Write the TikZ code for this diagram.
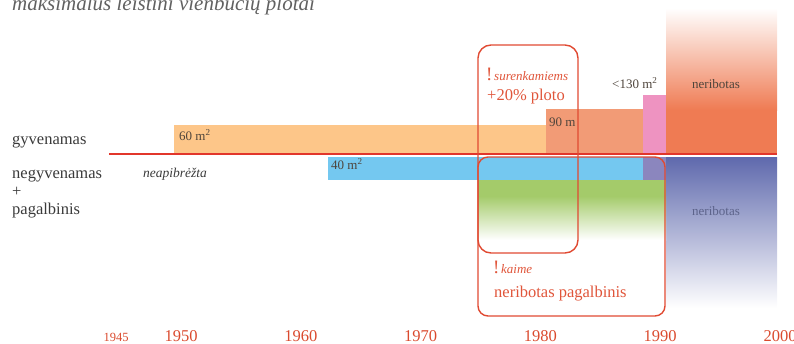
\documentclass[tikz,border=0pt]{standalone}
\usepackage{fontspec}
\setmainfont{Liberation Serif}
\usetikzlibrary{positioning}

\definecolor{lineRed}{HTML}{E2362B}
\definecolor{frameRed}{HTML}{E04A32}
\definecolor{textRed}{HTML}{E0553A}
\definecolor{yearRed}{HTML}{DA4A2E}
\definecolor{barOrange}{HTML}{FDC689}
\definecolor{barSalmon}{HTML}{F29B76}
\definecolor{barPink}{HTML}{EE93C1}
\definecolor{barRed}{HTML}{EF7B53}
\definecolor{barBlue}{HTML}{74C8F0}
\definecolor{barPurple}{HTML}{8B86BE}
\definecolor{barNavy}{HTML}{5F69AD}
\definecolor{barGreen}{HTML}{A4CB6A}
\definecolor{labelGray}{HTML}{3A3A3A}

\begin{document}
\begin{tikzpicture}[x=1pt, y=-1pt]

\useasboundingbox (0,0) rectangle (794,343);
\clip (0,0) rectangle (794,343);

%% setup styles
\tikzstyle{row label}=[anchor=base west, inner sep=0pt, text=labelGray, font=\fontsize{16.5}{18}\selectfont]
\tikzstyle{bar label}=[anchor=base west, inner sep=0pt, text=labelGray!85!brown, font=\fontsize{13}{14}\selectfont]
\tikzstyle{note}=[anchor=base west, inner sep=0pt, text=textRed]
\tikzstyle{frame}=[draw=frameRed, line width=1.4pt, rounded corners=13pt]
\tikzstyle{year}=[anchor=base, inner sep=0pt, text=yearRed, font=\fontsize{16.5}{18}\selectfont]

%% define coordinate grid
\def \xstart {109}
\def \xsixty {174}
\def \xforty {328}
\def \xframe {478}
\def \xninety {546}
\def \xframeend {578}
\def \xpink {643}
\def \xfree {666}
\def \xend {777}
\def \ymain {154}
\def \ylow {157}
\def \yblue {180}
\def \ybase {341}

% title (cut at the top)
\node[anchor=base west, inner sep=0pt, text=labelGray!80, font=\fontsize{21}{23}\selectfont\itshape] (title) at (12,10) {maksimalus leistini vienbučių plotai};

% gyvenamas bars
\fill[barOrange] (\xsixty,125) rectangle (\xninety,\ymain);
\fill[barSalmon] (\xninety,109) rectangle (\xpink,\ymain);
\fill[barPink] (\xpink,95) rectangle (\xfree,\ymain);
\shade[top color=white, bottom color=barRed] (\xfree,8) rectangle (\xend,110);
\fill[barRed] (\xfree,110) rectangle (\xend,\ymain);

% negyvenamas bars
\fill[barBlue] (\xforty,\ylow) rectangle (\xpink,\yblue);
\fill[barPurple] (\xpink,\ylow) rectangle (\xfree,\yblue);
\shade[top color=barNavy, middle color=barNavy!72!white, bottom color=white] (\xfree,\ylow) rectangle (\xend,308);
\fill[barGreen] (\xframe,\yblue) rectangle (\xfree,196);
\shade[top color=barGreen, bottom color=white] (\xframe,196) rectangle (\xfree,240);

% main line
\coordinate (line start) at (\xstart,\ymain);
\coordinate (line end) at (\xend,\ymain);
\draw[lineRed, line width=2.6pt] (line start) -- (line end);

% frames
\draw[frame] (\xframe,45) rectangle (\xframeend,253);
\draw[frame, rounded corners=10pt] (\xframe,\ylow) rectangle (\xfree-1,316);

% row labels
\node[row label] (gyv) at (12,144) {gyvenamas};
\node[row label] (negyv) at (12,178) {negyvenamas};
\node[row label] (plus) at (12,196) {+};
\node[row label] (pagalb) at (12,214) {pagalbinis};
\node[anchor=base west, inner sep=0pt, text=labelGray, font=\fontsize{13.5}{15}\selectfont\itshape] (neapibr) at (143,177) {neapibrėžta};

% bar labels
\node[bar label] (l60) at (179,140) {60 m\textsuperscript{2}};
\node[bar label] (l40) at (331,169) {40 m\textsuperscript{2}};
\node[bar label] (l90) at (549,126) {90 m};
\node[bar label] (l130) at (612,88) {<130 m\textsuperscript{2}};
\node[bar label, anchor=base] (nerib1) at (716,88) {neribotas};
\node[bar label, anchor=base, text=barNavy!55!black, opacity=0.6] (nerib2) at (716,215) {neribotas};

% notes
\node[note] (surenk) at (486,80) {{\fontsize{19}{20}\selectfont !}\,{\fontsize{13}{14}\selectfont\itshape surenkamiems}};
\node[note, font=\fontsize{16.5}{18}\selectfont] (ploto) at (487,100) {+20\% ploto};
\node[note] (kaime) at (493,273) {{\fontsize{19}{20}\selectfont !}\,{\fontsize{13}{14}\selectfont\itshape kaime}};
\node[note, font=\fontsize{16.5}{18}\selectfont] (pagalbnote) at (494,297) {neribotas pagalbinis};

% year axis
\node[year, font=\fontsize{12.5}{14}\selectfont] (y-1945) at (116,\ybase) {1945};
\foreach \yr in {1950,1960,...,2000}{
\node[year] (y-\yr) at ({181+11.98*(\yr-1950)},\ybase) {\yr};}

\end{tikzpicture}
\end{document}
